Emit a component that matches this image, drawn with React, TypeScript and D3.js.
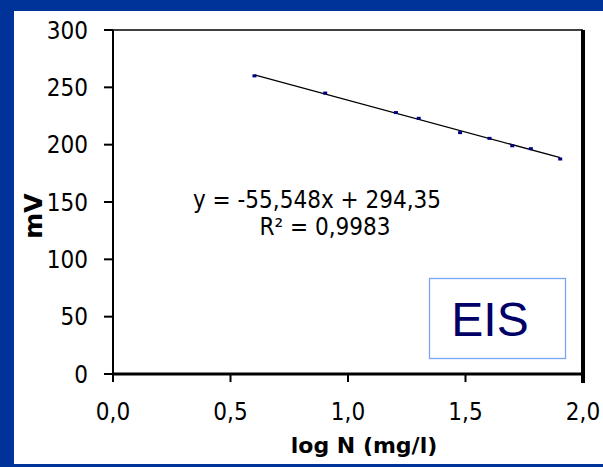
import React from 'react';
import * as d3 from 'd3';

// log N (mg/l) and measured potential (mV)
const logN = [0.602, 0.903, 1.204, 1.301, 1.477, 1.602, 1.699, 1.778, 1.903];
const mV = [260, 245, 228, 223, 210.5, 205.5, 199, 196.5, 187.5];

const xTicks = [0, 0.5, 1.0, 1.5, 2.0];
const yTicks = [0, 50, 100, 150, 200, 250, 300];

// Excel linear trendline shown on the chart
const slope = -55.548;
const intercept = 294.35;
const equationLabel = 'y = -55,548x + 294,35';
const r2Label = 'R² = 0,9983';
const boxLabel = 'EIS';

const W = 603;
const H = 467;
const margin = { top: 30, right: 20, bottom: 93, left: 113 };

const tickFont = '"DejaVu Sans Condensed", "Liberation Sans", sans-serif';
const boldFont = '"DejaVu Sans", Verdana, sans-serif';

export default function App() {
  const x = d3.scaleLinear().domain([0, 2]).range([margin.left, W - margin.right]);
  const y = d3.scaleLinear().domain([0, 300]).range([H - margin.bottom, margin.top]);

  const fmt = (v: number) => v.toFixed(1).replace('.', ',');

  const x0 = d3.min(logN) as number;
  const x1 = d3.max(logN) as number;
  const trend = d3.line<number>()
    .x(d => x(d))
    .y(d => y(slope * d + intercept))([x0, x1]);

  const [left, right] = x.range();
  const [bottom, top] = y.range();

  return (
    <svg width={W} height={H} style={{ position: 'absolute', left: 0, top: 0, display: 'block' }}>
      <rect x={0} y={0} width={W} height={H} fill="#003399" />
      <rect x={14} y={11} width={W - 14} height={453} fill="#ffffff" />

      {/* plot frame */}
      <line x1={left} x2={right} y1={top} y2={top} stroke="#000" strokeWidth={1.5} />
      <line x1={right} x2={right} y1={top} y2={bottom + 9} stroke="#000" strokeWidth={4} />
      <line x1={left} x2={left} y1={top} y2={bottom + 1} stroke="#000" strokeWidth={2} />
      <line x1={left - 1} x2={right} y1={bottom} y2={bottom} stroke="#000" strokeWidth={3} />

      {/* y axis */}
      {yTicks.map(t => (
        <g key={t}>
          <line x1={left - 9} x2={left} y1={y(t)} y2={y(t)} stroke="#000" strokeWidth={2} />
          <text x={left - 25} y={y(t)} dy="0.36em" textAnchor="end"
            fontFamily={tickFont} fontSize={24} fill="#000">{t}</text>
        </g>
      ))}
      <text transform={`translate(42, 216) rotate(-90)`} textAnchor="middle"
        fontFamily={boldFont} fontWeight="bold" fontSize={25} fill="#000">mV</text>

      {/* x axis */}
      {xTicks.map(t => (
        <g key={t}>
          <line x1={x(t)} x2={x(t)} y1={bottom} y2={bottom + 8} stroke="#000" strokeWidth={2} />
          <text x={x(t)} y={bottom + 46} textAnchor="middle"
            fontFamily={tickFont} fontSize={24} fill="#000">{fmt(t)}</text>
        </g>
      ))}
      <text x={364} y={453} textAnchor="middle"
        fontFamily={boldFont} fontWeight="bold" fontSize={22} fill="#000">log N (mg/l)</text>

      {/* trendline and points */}
      <path d={trend || ''} fill="none" stroke="#000" strokeWidth={1.3} />
      {logN.map((v, i) => (
        <rect key={i} x={x(v) - 2} y={y(mV[i]) - 1.5} width={4} height={3} fill="#000080" />
      ))}

      {/* trendline annotation */}
      <text x={317} y={208} textAnchor="middle" fontFamily={tickFont} fontSize={24} fill="#000">
        {equationLabel}
      </text>
      <text x={325} y={235} textAnchor="middle" fontFamily={tickFont} fontSize={24} fill="#000">
        {r2Label}
      </text>

      {/* EIS label box */}
      <rect x={429.5} y={278.5} width={136} height={80} fill="#fff" stroke="#7aa5f5" strokeWidth={1.3} />
      <text x={490} y={336} textAnchor="middle" fontFamily='"Liberation Sans", Arial, sans-serif'
        fontSize={48} fill="#000066">{boxLabel}</text>
    </svg>
  );
}
